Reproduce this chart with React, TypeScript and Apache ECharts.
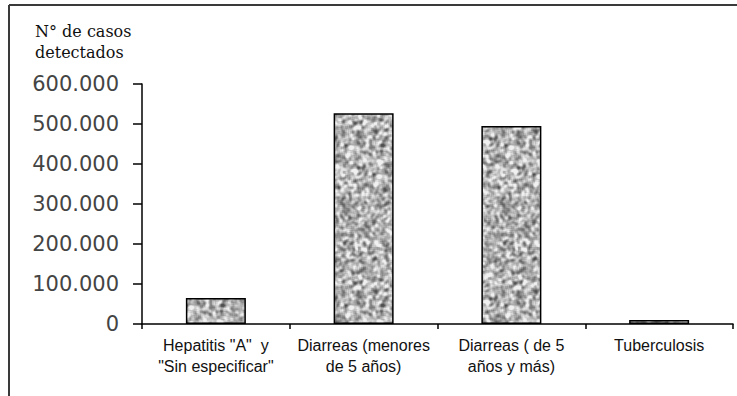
import React, { useEffect, useRef } from "react";
import * as echarts from "echarts";

const categories = [
  'Hepatitis "A"  y\n"Sin especificar"',
  "Diarreas (menores\nde 5 años)",
  "Diarreas ( de 5\naños y más)",
  "Tuberculosis",
];
const casos = [65000, 527000, 495000, 10000];
const yTicks = [0, 100000, 200000, 300000, 400000, 500000, 600000];
const yTitle = ["N° de casos", "detectados"];

function makeTexture(): HTMLCanvasElement {
  const n = 160;
  const c = document.createElement("canvas");
  c.width = n;
  c.height = n;
  const ctx = c.getContext("2d")!;
  let seed = 424242;
  const rnd = () => {
    seed = (seed * 1103515245 + 12345) & 0x7fffffff;
    return seed / 0x7fffffff;
  };
  const raw: number[] = [];
  for (let i = 0; i < n * n; i++) raw.push(rnd());
  const kern = [1, 2, 3, 2, 1];
  const img = ctx.createImageData(n, n);
  for (let y = 0; y < n; y++) {
    for (let x = 0; x < n; x++) {
      let s = 0;
      let w = 0;
      for (let dy = -2; dy <= 2; dy++)
        for (let dx = -2; dx <= 2; dx++) {
          const xx = (x + dx + n) % n;
          const yy = (y + dy + n) % n;
          const ww = kern[dx + 2] * kern[dy + 2];
          s += raw[yy * n + xx] * ww;
          w += ww;
        }
      s /= w;
      const v = Math.max(80, Math.min(240, Math.round(180 + (s - 0.5) * 520)));
      const k = (y * n + x) * 4;
      img.data[k] = v;
      img.data[k + 1] = v;
      img.data[k + 2] = v;
      img.data[k + 3] = 255;
    }
  }
  ctx.putImageData(img, 0, 0);
  return c;
}

function fmt(v: number): string {
  return String(v).replace(/\B(?=(\d{3})+(?!\d))/g, ".");
}

export default function App() {
  const ref = useRef<HTMLDivElement>(null);
  useEffect(() => {
    document.body.style.margin = "0";
    const chart = echarts.init(ref.current!, null, { renderer: "svg" });
    const tex = makeTexture();
    chart.setOption({
      animation: false,
      backgroundColor: "#ffffff",
      grid: { left: 142, right: 4, top: 84, bottom: 72 },
      graphic: [
        {
          type: "line",
          shape: { x1: 9, y1: 5, x2: 737, y2: 5 },
          style: { stroke: "#3a3a3a", lineWidth: 2 },
        },
        {
          type: "line",
          shape: { x1: 9, y1: 5, x2: 9, y2: 396 },
          style: { stroke: "#3a3a3a", lineWidth: 2 },
        },
        {
          type: "text",
          left: 35,
          top: 21,
          style: {
            text: yTitle.join("\n"),
            font: '16px "DejaVu Serif"',
            lineHeight: 21,
            fill: "#111",
          },
        },
      ],
      xAxis: {
        type: "category",
        data: categories,
        boundaryGap: true,
        axisLine: { lineStyle: { color: "#000", width: 1.5 } },
        axisTick: { show: true, length: 5, interval: 0, lineStyle: { color: "#000", width: 1.5 } },
        axisLabel: {
          interval: 0,
          color: "#111",
          fontFamily: "Liberation Sans",
          fontSize: 16,
          lineHeight: 21,
          margin: 11,
        },
      },
      yAxis: {
        type: "value",
        min: 0,
        max: 600000,
        interval: 100000,
        splitLine: { show: false },
        axisLine: { show: true, lineStyle: { color: "#000", width: 1.5 } },
        axisTick: { show: true, length: 9, lineStyle: { color: "#000", width: 1.5 } },
        axisLabel: {
          color: "#444",
          fontFamily: "DejaVu Sans",
          fontSize: 21,
          margin: 23,
          formatter: (v: number) => (yTicks.includes(v) ? fmt(v) : ""),
        },
      },
      series: [
        {
          type: "bar",
          data: casos,
          barWidth: 60,
          itemStyle: {
            color: { image: tex, repeat: "repeat", imageWidth: 160, imageHeight: 160 } as any,
            borderColor: "#000",
            borderWidth: 1.5,
          },
        },
      ],
    });
    return () => chart.dispose();
  }, []);
  return (
    <div
      ref={ref}
      style={{ position: "absolute", left: 0, top: 0, width: 737, height: 396 }}
    />
  );
}
